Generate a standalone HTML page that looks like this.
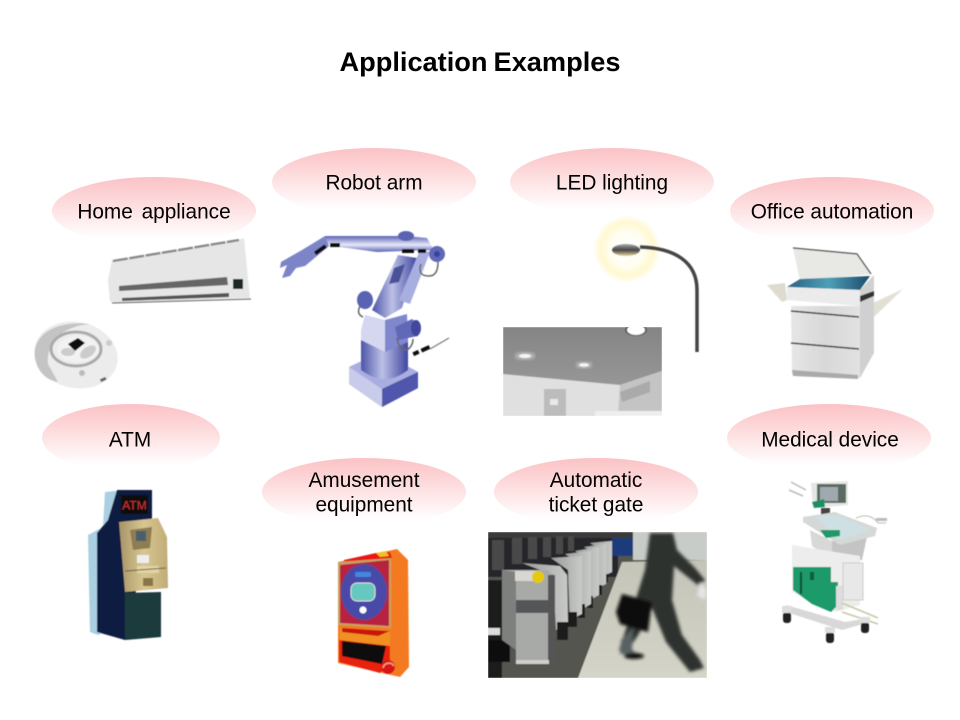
<!DOCTYPE html>
<html><head><meta charset="utf-8"><style>
html,body{margin:0;padding:0;background:#fff}
svg{display:block}
text{font-family:"Liberation Sans",sans-serif;fill:#000}
.l{font-size:20.800px;text-anchor:middle}
</style></head><body>
<svg width="960" height="720" viewBox="0 0 960 720" xmlns="http://www.w3.org/2000/svg">
<defs>
<linearGradient id="p" x1="0" y1="0" x2="0" y2="1"><stop offset="0" stop-color="#fbc2c5"/><stop offset=".45" stop-color="#fde0e1"/><stop offset=".9" stop-color="#fff"/></linearGradient>
<radialGradient id="halo"><stop offset="0" stop-color="#fff"/><stop offset=".5" stop-color="#fffef2"/><stop offset=".78" stop-color="#fff8d0"/><stop offset="1" stop-color="#fff"/></radialGradient>
<linearGradient id="ceil" x1="0" y1="0" x2="0" y2="1"><stop offset="0" stop-color="#858585"/><stop offset="1" stop-color="#a0a0a0"/></linearGradient>
<linearGradient id="bl" x1="0" y1="0" x2="1" y2="0"><stop offset="0" stop-color="#4c54a8"/><stop offset=".45" stop-color="#bcc0e6"/><stop offset="1" stop-color="#3f479e"/></linearGradient>
<linearGradient id="bl2" x1="0" y1="0" x2="0" y2="1"><stop offset="0" stop-color="#5c63b6"/><stop offset=".55" stop-color="#e8eaf8"/><stop offset="1" stop-color="#5a60b6"/></linearGradient>
<linearGradient id="bl3" x1="0" y1="0" x2="1" y2="1"><stop offset="0" stop-color="#dfe1f3"/><stop offset="1" stop-color="#5a62b4"/></linearGradient>
<linearGradient id="lamp" x1="0" y1="0" x2="0" y2="1"><stop offset="0" stop-color="#aaa"/><stop offset=".5" stop-color="#444"/><stop offset="1" stop-color="#e8d9a0"/></linearGradient>
<linearGradient id="cp" x1="0" y1="0" x2="1" y2="0"><stop offset="0" stop-color="#e6e6e6"/><stop offset=".5" stop-color="#d8d8d8"/><stop offset="1" stop-color="#e2e2e2"/></linearGradient>
<linearGradient id="gl" x1="0" y1="0" x2="1" y2="0"><stop offset="0" stop-color="#2c5f80"/><stop offset=".5" stop-color="#4da0b8"/><stop offset="1" stop-color="#1d4a6a"/></linearGradient>
<linearGradient id="kh" x1="0" y1="0" x2="1" y2="0"><stop offset="0" stop-color="#a89468"/><stop offset=".5" stop-color="#d8c690"/><stop offset="1" stop-color="#c0ac78"/></linearGradient>
<linearGradient id="floor" x1="0" y1="0" x2="0" y2="1"><stop offset="0" stop-color="#c4c4b8"/><stop offset="1" stop-color="#d4d4c8"/></linearGradient>
<linearGradient id="gate" x1="0" y1="0" x2="1" y2="0"><stop offset="0" stop-color="#9a9c9a"/><stop offset="1" stop-color="#c8cac8"/></linearGradient>
<filter id="b1" x="-5%" y="-5%" width="110%" height="110%"><feGaussianBlur stdDeviation=".5"/></filter>
<filter id="b2" x="-5%" y="-5%" width="110%" height="110%"><feGaussianBlur stdDeviation="1.500"/></filter>
<clipPath id="c1"><rect x="503" y="327" width="159" height="89"/></clipPath>
<clipPath id="c2"><rect x="488" y="532" width="219" height="146"/></clipPath>
</defs>

<text x="480" y="71" text-anchor="middle" word-spacing="-1.500" style="font-size:27.200px;font-weight:bold">Application Examples</text>

<ellipse cx="154" cy="211" rx="102" ry="34" fill="url(#p)"/>
<ellipse cx="374" cy="182" rx="102" ry="34" fill="url(#p)"/>
<ellipse cx="612" cy="182" rx="102" ry="34" fill="url(#p)"/>
<ellipse cx="832" cy="211" rx="102" ry="34" fill="url(#p)"/>
<ellipse cx="131" cy="438" rx="89" ry="34" fill="url(#p)"/>
<ellipse cx="829" cy="438" rx="102" ry="34" fill="url(#p)"/>
<ellipse cx="364" cy="492" rx="102" ry="34" fill="url(#p)"/>
<ellipse cx="596" cy="492" rx="102" ry="34" fill="url(#p)"/>

<text class="l" x="154" y="218.500" word-spacing="3">Home appliance</text>
<text class="l" x="374" y="189.500">Robot arm</text>
<text class="l" x="612" y="189.500">LED lighting</text>
<text class="l" x="832" y="218.500">Office automation</text>
<text class="l" x="130" y="446.500">ATM</text>
<text class="l" x="830" y="446.500">Medical device</text>
<text class="l" x="364" y="487">Amusement</text>
<text class="l" x="364" y="511.500">equipment</text>
<text class="l" x="596" y="487">Automatic</text>
<text class="l" x="596" y="511.500">ticket gate</text>

<!-- air conditioner -->
<g filter="url(#b1)">
<polygon points="108,280 112,260 238,240 244,238 250,298 123,303 110,302" fill="#e6e6e6"/>
<path d="M113,261 L239,240" stroke="#888" stroke-width="2.400" stroke-dasharray="15 1.500"/>
<polygon points="119,286 227,277 228,285 119,291" fill="#666"/>
<polygon points="122,298 229,293 229,297 122,301" fill="#555"/>
<path d="M112,303 L251,299" stroke="#555" stroke-width="1"/>
<rect x="233" y="279" width="10" height="10" fill="#1c2a22"/>
</g>

<!-- robot vacuum -->
<g filter="url(#b1)">
<ellipse cx="76" cy="355" rx="42" ry="33" transform="rotate(12 76 355)" fill="#ececec"/>
<path d="M35,358 C32,335 55,320 90,324 C65,326 46,340 48,364 L58,382 C45,380 37,370 35,358Z" fill="#c4c4c4"/>
<ellipse cx="76" cy="349" rx="25" ry="17" fill="none" stroke="#aaa" stroke-width="3"/>
<ellipse cx="78" cy="349" rx="21" ry="13" fill="#f2f2f2"/>
<polygon points="68,344 78,338 85,343 75,351" fill="#111"/>
<ellipse cx="88" cy="352" rx="9" ry="5" transform="rotate(-35 88 352)" fill="#ccc"/>
<ellipse cx="68" cy="352" rx="7" ry="4" fill="#ccc"/>
<circle cx="82" cy="373" r="3" fill="#bbb"/><circle cx="109" cy="343" r="3" fill="#ccc"/>
<rect x="100" y="378" width="6" height="3" fill="#666" transform="rotate(-25 103 379)"/>
</g>

<!-- robot arm -->
<g filter="url(#b1)">
<polygon points="349,367 381,352 418,372 418,388 382,407 349,384" fill="url(#bl3)"/>
<polygon points="349,367 382,389 418,372 381,352" fill="#a9ade0"/>
<polygon points="349,367 382,389 382,407 349,384" fill="#c8cbea"/>
<polygon points="382,389 418,372 418,388 382,407" fill="#4f57ab"/>
<path d="M361,338 L361,370 Q385,388 408,370 L408,338Z" fill="url(#bl)"/>
<polygon points="365,315 385,320 385,352 361,340 361,330" fill="#d4d7ef"/>
<polygon points="385,320 407,314 408,342 385,352" fill="#8087cc"/>
<polygon points="372,310 398,255 417,258 402,308 385,318" fill="url(#bl)"/>
<polygon points="399,300 420,250 430,252 410,304" fill="#a9aee0"/>
<polygon points="394,268 405,264 399,282 389,284" fill="#4c5298"/>
<polygon points="325,236 405,236 427,238 434,250 377,252 325,245" fill="url(#bl2)"/>
<ellipse cx="437" cy="254" rx="8" ry="8" fill="#6068b8"/>
<circle cx="437" cy="254" r="3" fill="#3a429a"/>
<ellipse cx="406" cy="236" rx="8" ry="5" fill="#5a62b4"/>
<polygon points="325,236 302,250 281,262 280,268 287,265 282,278 290,276 296,268 305,266 329,246" fill="#7d84c8"/>
<ellipse cx="365" cy="300" rx="8" ry="9" fill="#5a62b4"/>
<path d="M395,327 L412,319 Q422,326 418,336 L398,340Z" fill="#6068b8"/>
<ellipse cx="416" cy="328" rx="5" ry="8" fill="#3f479c"/>
<path d="M421,264 q-4,12 8,12 q9,0 9,-14 M360,306 q-4,8 3,11 M397,338 q2,12 10,12 q6,-4 6,-11" fill="none" stroke="#666" stroke-width="1.500"/>
<g fill="#111"><rect x="314" y="248" width="13" height="4" transform="rotate(-35 320 250)"/><rect x="330" y="243" width="10" height="4"/><rect x="402" y="249" width="12" height="4"/><rect x="418" y="249" width="8" height="4"/><rect x="413" y="351" width="6" height="4" transform="rotate(-25 416 353)"/><rect x="421" y="347" width="9" height="4" transform="rotate(-25 425 349)"/></g>
<path d="M430,349 L449,338" stroke="#777" stroke-width="1.200"/>
</g>

<!-- street lamp -->
<circle cx="627" cy="249" r="34" fill="url(#halo)"/>
<g filter="url(#b1)">
<path d="M640,247 C675,248 697,262 697,290 L697,352" fill="none" stroke="#444" stroke-width="3.500"/>
<ellipse cx="626" cy="250" rx="14" ry="6" fill="url(#lamp)"/>
</g>

<!-- ceiling photo -->
<g clip-path="url(#c1)" filter="url(#b1)">
<rect x="503" y="327" width="159" height="89" fill="url(#ceil)"/>
<polygon points="503,374 620,385 662,371 662,416 503,416" fill="#e0e0e0"/>
<polygon points="620,385 662,371 662,416 618,416" fill="#c4c4c4"/>
<polygon points="620,392 650,381 650,392 622,402" fill="#aaa"/>
<rect x="544" y="389" width="22" height="27" fill="#bcbcbc"/>
<rect x="550" y="399" width="8" height="6" fill="#e8e8e8"/>
<rect x="595" y="411" width="67" height="5" fill="#eee"/>
<ellipse cx="525" cy="356" rx="10" ry="4" fill="#bbb" filter="url(#b2)"/><ellipse cx="525" cy="356" rx="6" ry="2" fill="#f4f4f4"/>
<ellipse cx="584" cy="365" rx="8" ry="3.500" fill="#bbb" filter="url(#b2)"/><ellipse cx="584" cy="365" rx="5" ry="1.800" fill="#f4f4f4"/>
<ellipse cx="636" cy="330" rx="11" ry="6" fill="#555"/><ellipse cx="636" cy="330" rx="9" ry="5" fill="#fff"/>
</g>

<!-- copier -->
<g filter="url(#b1)">
<polygon points="767,285 785,283 787,300 782,302" fill="#dedcd0"/>
<polygon points="860,309 903,289 875,316 860,320" fill="#e2e0d4"/>
<polygon points="791,306 860,306 860,378 792,372" fill="url(#cp)"/>
<polygon points="860,290 874,275 874,353 860,378" fill="#d0d0d0"/>
<polygon points="792,370 858,375 858,379 793,376" fill="#aaa"/>
<polygon points="793,248 857,254 872,274 800,281" fill="#e8e8e4"/>
<path d="M793,248 L857,254 L871,274" fill="none" stroke="#444" stroke-width="1.200"/>
<polygon points="787,287 800,279 870,276 860,290" fill="url(#gl)"/>
<polygon points="787,287 860,290 860,306 787,300" fill="#ebebeb"/>
<polygon points="860,296 874,291 874,296 860,302" fill="#333"/>
<path d="M791,311 L859,317 M791,343 L859,349" stroke="#333" stroke-width="1.400"/>
</g>

<!-- ATM -->
<g filter="url(#b1)">
<polygon points="88,535 103,527 105,492 125,490 110,630 98,635 90,632" fill="#a9cfe0"/>
<polygon points="97,533 108,520 117,490 152,490 152,520 125,640 97,632" fill="#101c40"/>
<polygon points="125,593 161,592 161,637 125,640" fill="#1d3a3e"/>
<rect x="121" y="495" width="27" height="19" fill="#111"/>
<text x="134.500" y="509.500" text-anchor="middle" style="font-size:12px;fill:#d03030">ATM</text>
<polygon points="119,522 158,518 167,537 168,588 125,592" fill="url(#kh)"/>
<polygon points="130,530 152,527 150,548 133,550" fill="#8e7c54"/>
<rect x="136" y="531" width="10" height="10" fill="#4a6068"/>
<rect x="137" y="555" width="12" height="8" fill="#eee"/>
<rect x="137" y="566" width="22" height="7" fill="#e2d4a4"/>
<rect x="143" y="578" width="10" height="8" fill="#8a7548"/>
<path d="M125,571 L166,568" stroke="#6b5c3c"/>
</g>

<!-- pachinko -->
<g filter="url(#b1)">
<polygon points="338,562 397,549 408,560 409,667 400,677 338,663" fill="#f47a22"/>
<polygon points="344,560 376,553 390,552 392,558 344,566" fill="#e81818"/>
<polygon points="376,553 386,551 389,556 380,557" fill="#f4c020"/>
<polygon points="338,562 391,558 391,628 338,625" fill="#c8a060"/>
<polygon points="340,565 389,560 389,626 340,623" fill="#b82040"/>
<ellipse cx="364" cy="592" rx="23" ry="28" fill="#4a48a8"/>
<rect x="351" y="583" width="24" height="18" rx="6" fill="#66c8c0" stroke="#ddd"/>
<rect x="355" y="572" width="16" height="5" rx="2" fill="#3f88e0"/>
<circle cx="363" cy="610" r="3.500" fill="#fff"/>
<polygon points="340,628 390,630 390,646 340,640" fill="#f09020"/>
<polygon points="342,628 390,631 378,636 342,632" fill="#c81808"/>
<polygon points="339,640 390,646 390,665 380,673 339,662" fill="#e82010"/>
<polygon points="342,641 386,646 382,664 342,656" fill="#0c0808"/>
<circle cx="388" cy="667" r="7" fill="#d81818"/>
<path d="M383,668 a6,6 0 0 1 11,-2" stroke="#f4a080" fill="none" stroke-width="1.500"/>
</g>

<!-- gate photo -->
<g clip-path="url(#c2)">
<g filter="url(#b1)">
<rect x="488" y="532" width="219" height="146" fill="#55554f"/>
<rect x="488" y="532" width="130" height="45" fill="#26262a"/>
<polygon points="578,678 622,562 707,560 707,678" fill="url(#floor)"/>
<rect x="612" y="538" width="21" height="18" fill="#1e3a7a"/>
<rect x="633" y="532" width="74" height="28" fill="#c8ccc8"/>
<rect x="488" y="532" width="145" height="6" fill="#3a3a3a"/>
<g fill="#4a4a4a"><rect x="492" y="540" width="12" height="30"/><rect x="512" y="538" width="10" height="26"/><rect x="528" y="537" width="9" height="22"/><rect x="543" y="537" width="8" height="20"/><rect x="556" y="536" width="7" height="18"/><rect x="568" y="536" width="6" height="15"/></g>
<g>
<polygon points="590,543 612,541 612,572 604,576 604,552" fill="url(#gate)"/><rect x="603" y="574" width="5" height="8" fill="#1c1c1c"/>
<polygon points="584,547 606,544 606,584 598,588 598,556" fill="url(#gate)"/><rect x="596" y="585" width="6" height="10" fill="#1c1c1c"/>
<polygon points="575,551 599,547 599,595 590,600 590,561" fill="url(#gate)"/><rect x="587" y="596" width="6" height="12" fill="#1c1c1c"/>
<polygon points="565,554 591,551 591,604 581,610 581,565" fill="url(#gate)"/><rect x="578" y="604" width="7" height="14" fill="#1c1c1c"/>
<polygon points="551,558 582,556 582,614 570,620 568,570" fill="url(#gate)"/><rect x="568" y="612" width="9" height="15" fill="#1c1c1c"/>
<polygon points="522,563 560,566 567,575 568,624 556,630 553,575" fill="url(#gate)"/><rect x="557" y="622" width="11" height="18" fill="#1c1c1c"/>
</g>
<rect x="488" y="580" width="14" height="98" fill="#1a1a1a"/>
<rect x="488" y="628" width="12" height="7" fill="#ddd"/>
<rect x="488" y="640" width="22" height="22" fill="#101010"/>
<polygon points="502,570 548,570 552,575 552,600 510,610 502,610" fill="#a8aaa8"/>
<polygon points="502,570 516,572 516,650 502,640" fill="#7e807e"/>
<rect x="516" y="572" width="32" height="90" fill="#a8aaa8"/>
<rect x="516" y="600" width="32" height="13" fill="#55575a"/>
<rect x="548" y="575" width="7" height="88" fill="#555"/>
<rect x="516" y="660" width="33" height="4" fill="#d0d0ca"/>
<rect x="515" y="571" width="22" height="10" fill="#d8d8d0"/>
<circle cx="538" cy="577" r="6" fill="#e6c810"/>
</g>
<g filter="url(#b2)">
<path d="M650,533 L673,533 L677,550 L695,568 L705,580 L699,586 L674,566 L672,600 L682,635 L700,660 L704,668 L690,672 L666,642 L652,608 L640,632 L627,652 L619,650 L634,605 L645,570Z" fill="#2f322d"/>
<polygon points="622,594 652,602 648,632 620,624 616,612" fill="#0e0e0e"/>
<polygon points="621,640 633,628 632,650 640,655 620,654" fill="#596064"/>
<polygon points="700,582 707,590 705,600 697,596" fill="#e4e4e4"/>
<ellipse cx="634" cy="656" rx="10" ry="3" fill="#111"/>
</g>
</g>

<!-- medical -->
<g filter="url(#b1)">
<path d="M791,482 L806,490 M789,490 L803,496" stroke="#bbb" stroke-width="1.500"/>
<polygon points="811,483 848,481 848,505 813,508" fill="#e4e6e4"/>
<rect x="817" y="484" width="29" height="19" fill="#5a6a60"/>
<rect x="820" y="487" width="18" height="14" fill="#a0a8b0"/>
<polygon points="812,502 824,499 825,507 814,508" fill="#1f9060"/>
<rect x="821" y="508" width="9" height="8" fill="#444"/>
<polygon points="810,530 832,541 832,560 812,546" fill="#d8d8d8"/>
<polygon points="832,541 868,532 862,560 832,562" fill="#c4c4c4"/>
<polygon points="803,517 835,512 877,528 875,536 840,545 803,522" fill="#d4d8d6"/>
<polygon points="815,516 838,515 871,530 838,540" fill="#cfe0e4"/>
<polygon points="820,530 840,530 840,536 826,538" fill="#1f9a6a"/>
<path d="M856,518 q14,-6 22,5 h8" fill="none" stroke="#bbb"/>
<rect x="876" y="518" width="11" height="3" fill="#bbb"/>
<polygon points="792,545 860,556 860,605 835,612 792,592" fill="#ededed"/>
<polygon points="793,567 831,567 831,612 812,604 793,590" fill="#1f9a6a"/>
<rect x="800" y="572" width="2" height="22" fill="#0e4a30"/>
<rect x="810" y="572" width="4" height="8" fill="#0e5a3a"/>
<polygon points="831,582 838,582 838,605 831,612" fill="#1f9a6a"/>
<rect x="836" y="586" width="7" height="24" fill="#ddd"/>
<rect x="843" y="563" width="20" height="37" fill="#e8e8e8" stroke="#ccc"/>
<path d="M842,603 L878,618 M842,612 L878,624" stroke="#c8c8a8" stroke-width="1.500"/>
<polygon points="786,605 845,622 870,618 870,622 842,630 786,612" fill="#d8d8d8"/>
<g fill="#222"><rect x="783" y="612" width="8" height="11" rx="3"/><rect x="826" y="632" width="8" height="11" rx="3"/><rect x="861" y="622" width="8" height="11" rx="3"/></g>
<g fill="#ddd"><rect x="782" y="606" width="10" height="7"/><rect x="825" y="627" width="10" height="6"/><rect x="860" y="617" width="10" height="6"/></g>
</g>
</svg>
</body></html>
